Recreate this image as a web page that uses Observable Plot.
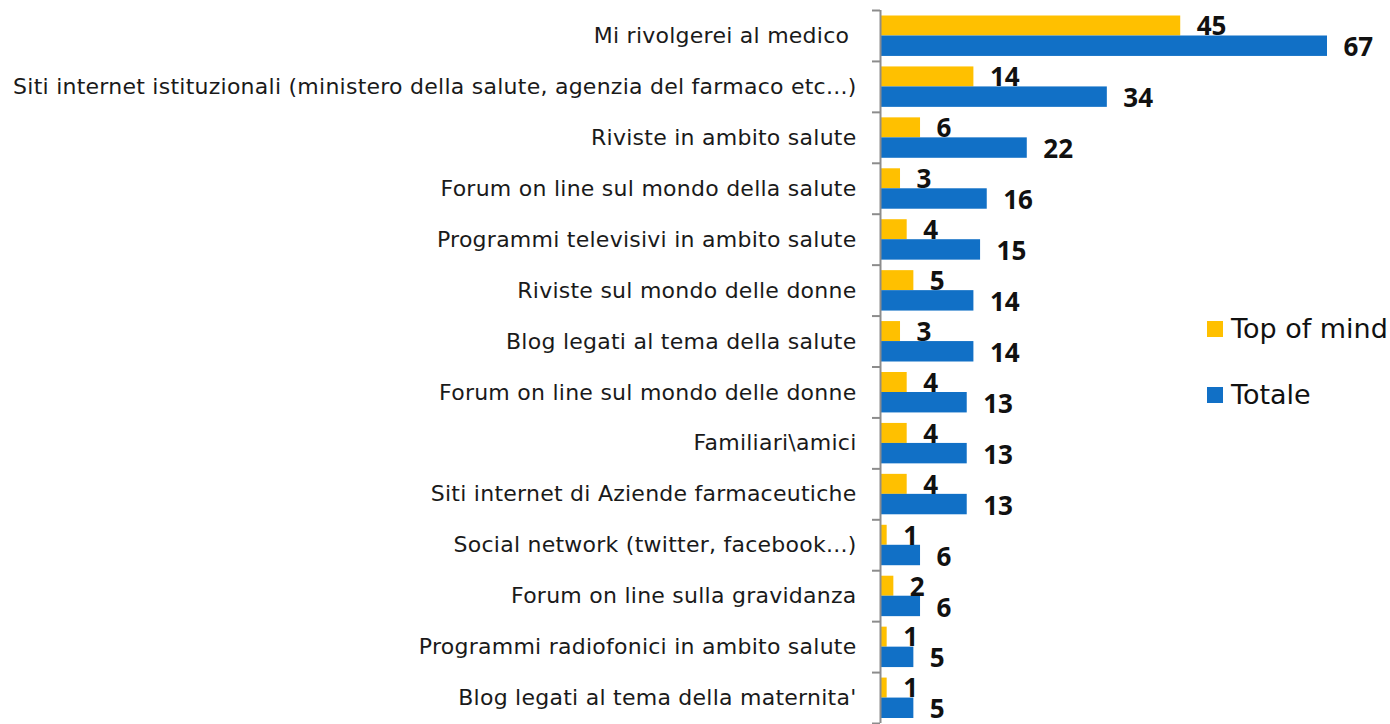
<!DOCTYPE html>
<html>
<head>
<meta charset="utf-8">
<script src="https://cdn.jsdelivr.net/npm/d3@7"></script>
<script src="https://cdn.jsdelivr.net/npm/@observablehq/plot@0.6"></script>
<style>
  body { margin: 0; background: #fff; }
  #wrap { position: relative; width: 1390px; height: 724px; }
  #chart svg { display: block; }
  #chart svg g[aria-label="y-axis tick label"] text { letter-spacing: 0.25px; white-space: pre; }
  .legend { position: absolute; left: 1207px; height: 30px; line-height: 30px; font-family: "DejaVu Sans", sans-serif; font-size: 27px; color: #111; display: flex; align-items: center; white-space: nowrap; }
  .legend span.sw { display: inline-block; width: 16px; height: 16px; margin-right: 8px; }
</style>
</head>
<body>
<div id="wrap">
  <div id="chart"></div>
  <div class="legend" style="top:314px"><span class="sw" style="background:#FFC000"></span>Top of mind</div>
  <div class="legend" style="top:380px"><span class="sw" style="background:#1170C6"></span>Totale</div>
</div>
<script>
const categories = [
  "Mi rivolgerei al medico ",
  "Siti internet istituzionali (ministero della salute, agenzia del farmaco etc...)",
  "Riviste in ambito salute",
  "Forum on line sul mondo della salute",
  "Programmi televisivi in ambito salute",
  "Riviste sul mondo delle donne",
  "Blog legati al tema della salute",
  "Forum on line sul mondo delle donne",
  "Familiari\\amici",
  "Siti internet di Aziende farmaceutiche",
  "Social network (twitter, facebook...)",
  "Forum on line sulla gravidanza",
  "Programmi radiofonici in ambito salute",
  "Blog legati al tema della maternita'"
];
const topOfMind = [45, 14, 6, 3, 4, 5, 3, 4, 4, 4, 1, 2, 1, 1];
const totale = [67, 34, 22, 16, 15, 14, 14, 13, 13, 13, 6, 6, 5, 5];

const yellow = "#FFC000";
const blue = "#1170C6";

const rows = categories.map((c, i) => ({cat: c, top: topOfMind[i], tot: totale[i]}));

const W = 1390, H = 724, mTop = 10, mBottom = 1, mLeft = 880, mRight = 63;
const bw = (H - mTop - mBottom) / categories.length;
const labelFont = "DejaVu Sans, sans-serif";
const valueFont = "Open Sans, sans-serif";

const chart = Plot.plot({
  width: W,
  height: H,
  marginTop: mTop,
  marginBottom: mBottom,
  marginLeft: mLeft,
  marginRight: mRight,
  style: {background: "transparent"},
  x: {domain: [0, 67], axis: null},
  y: {domain: categories, padding: 0, round: false, axis: null},
  marks: [
    Plot.barX(rows, {y: "cat", x: "top", fill: yellow, insetTop: 5.5, insetBottom: bw - 25.5}),
    Plot.barX(rows, {y: "cat", x: "tot", fill: blue, insetTop: 25.5, insetBottom: 5}),
    Plot.ruleX([0], {stroke: "#8c8c8c", strokeWidth: 2}),
    Plot.ruleY(categories, {y: d => d, x1: 0, x2: 0, insetLeft: -8, dy: -bw / 2, stroke: "#8c8c8c", strokeWidth: 2}),
    Plot.ruleY([categories[categories.length - 1]], {y: d => d, x1: 0, x2: 0, insetLeft: -8, dy: bw / 2, stroke: "#8c8c8c", strokeWidth: 2}),
    Plot.axisY({tickSize: 0, tickPadding: 24, fontSize: 22, fontFamily: labelFont, fill: "#1a1a1a", label: null}),
    Plot.text(rows, {y: "cat", x: "top", text: d => String(d.top), textAnchor: "start", dx: 16, dy: -9, fontSize: 26, fontWeight: "bold", fontFamily: valueFont, fill: "#111"}),
    Plot.text(rows, {y: "cat", x: "tot", text: d => String(d.tot), textAnchor: "start", dx: 16, dy: 12, fontSize: 26, fontWeight: "bold", fontFamily: valueFont, fill: "#111"})
  ]
});
document.getElementById("chart").appendChild(chart);
</script>
</body>
</html>
